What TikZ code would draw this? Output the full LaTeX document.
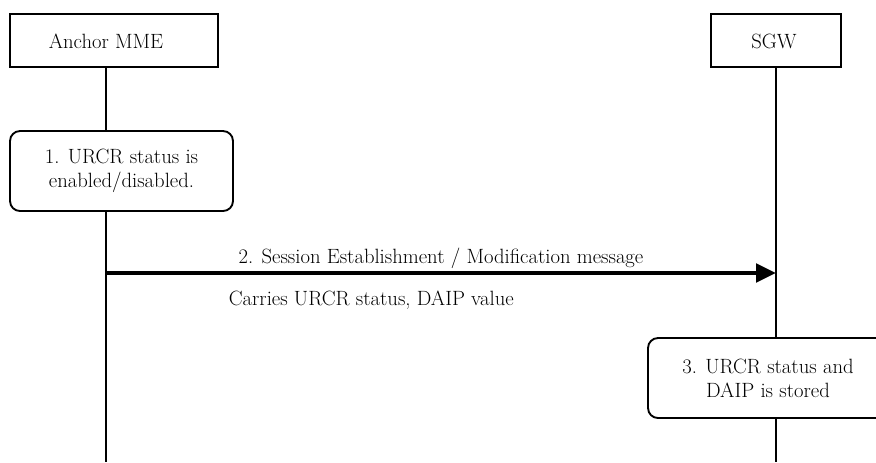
\documentclass[tikz,border=0pt]{standalone}
\usetikzlibrary{arrows.meta}
\usetikzlibrary{backgrounds}

\begin{document}
\begin{tikzpicture}[x=0.75pt,y=-0.75pt,font=\fontsize{15.5}{18}\selectfont]
		\clip (0,0) rectangle (876,462);
		% actors
		\begin{scope}[every node/.style={draw,line width=2.2pt,minimum height=39.75pt}]
			\node[minimum width=156pt] (mme) at (114,40.5) {};
			\node[minimum width=97.5pt] (sgw) at (776,40.5) {};
		\end{scope}
		\node (mmetext) at (106,41) {Anchor MME};
		\node (sgwtext) at (774,41) {SGW};

		% steps
		\begin{scope}[every node/.style={draw,fill=white,line width=1.4pt,rounded corners=7.5pt,
		              minimum height=60pt,align=center}]
			\node[minimum width=167.25pt] (s1) at (121.5,171) {1. URCR status is\\enabled/disabled.};
			\node[minimum width=180pt] (s3) at (768,378) {3. URCR status and\\DAIP is stored};
		\end{scope}

		\coordinate (mmeend) at (106,462);
		\coordinate (sgwend) at (776,462);
		\coordinate (a2from) at (106,273);
		\coordinate (a2to) at (776,273);

		% lifelines
		\begin{scope}[on background layer,every edge/.style={draw=black,line width=1.4pt}]
			\path (mme.south -| mmeend) edge (mmeend);
			\path (sgw.south) edge (sgwend);
		\end{scope}

		% message
		\begin{scope}[>={Triangle[length=15pt,width=13.5pt]},
		              every edge/.style={draw=black,line width=3.6pt}]
			\path (a2from) edge[->] node[above=-2pt,pos=0.5] (m2) {2. Session Establishment / Modification message}
			                        node[below=8pt,pos=0.396] (m2b) {Carries URCR status, DAIP value} (a2to);
		\end{scope}
\end{tikzpicture}
\end{document}
